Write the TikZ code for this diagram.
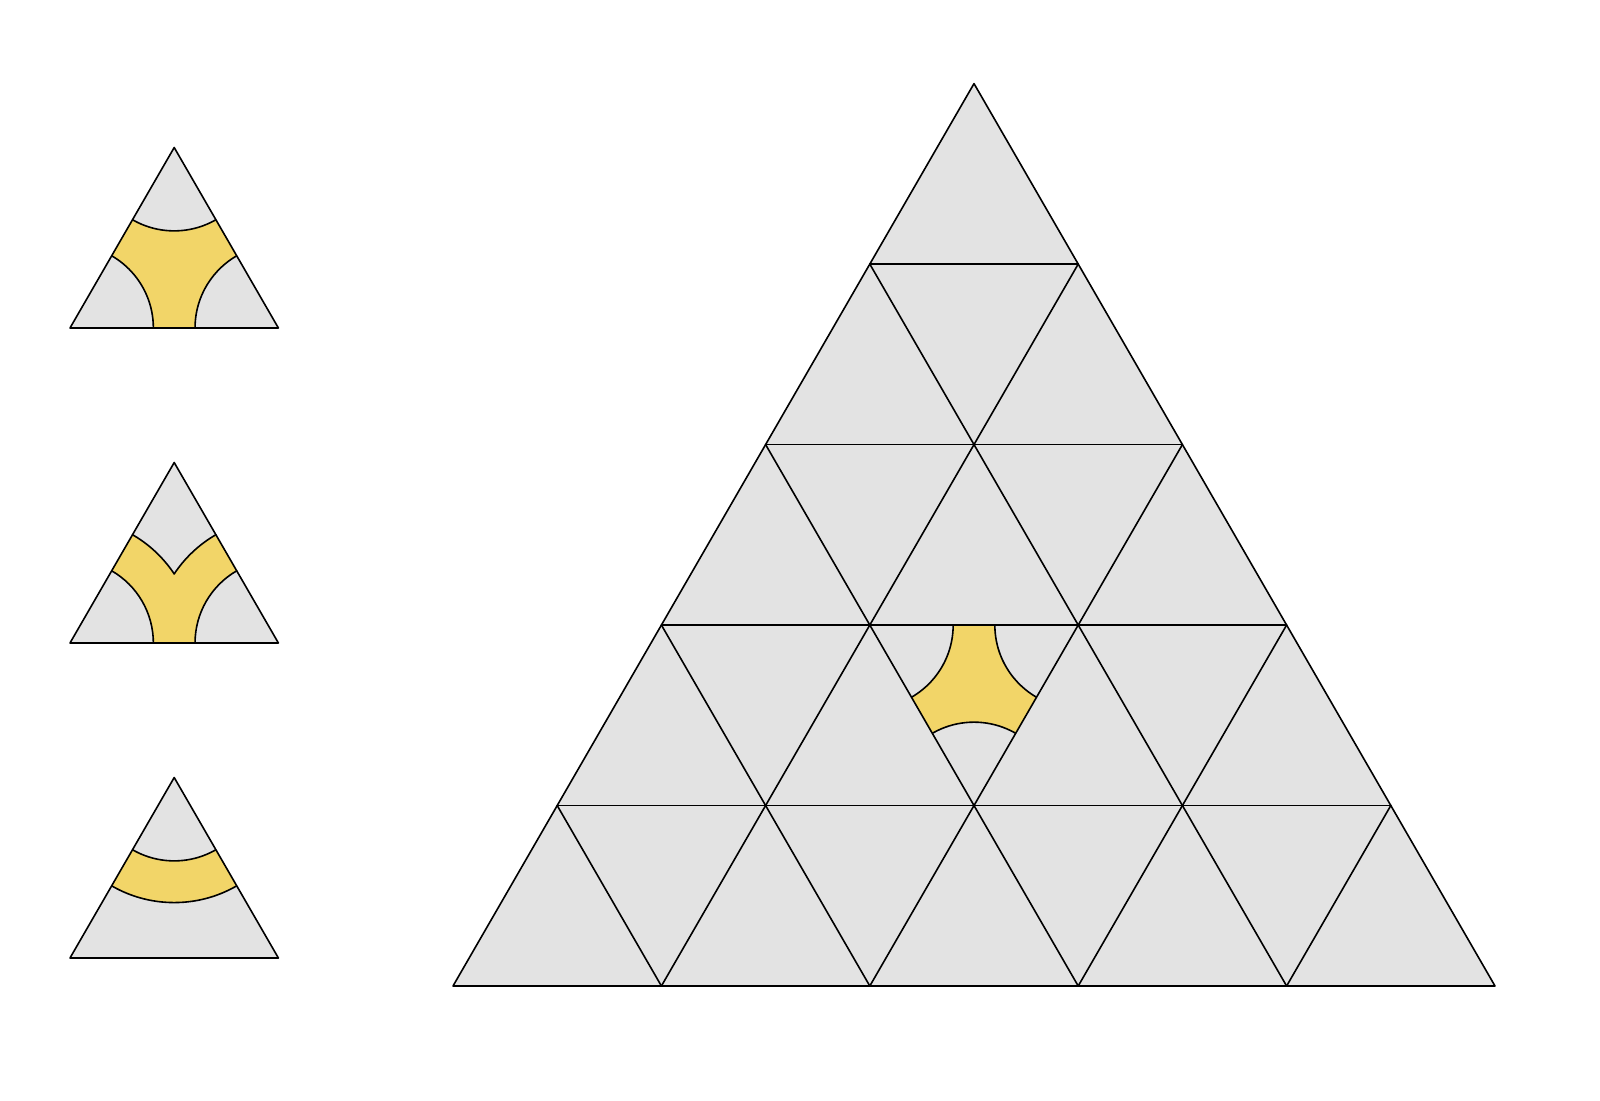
\documentclass[tikz,border=0pt]{standalone}
\definecolor{tgray}{HTML}{E3E3E3}
\definecolor{tyel}{HTML}{F2D568}
\begin{document}
\begin{tikzpicture}[x=0.5pt,y=0.5pt,
  edge/.style={draw=black,line width=0.8pt,line join=round,line cap=round}]
\useasboundingbox (0,0) rectangle (1600,1100);
% ---------- small triangle 1 ----------
\coordinate (t1a) at (70,772);
\coordinate (t1b) at (278.4,772);
\coordinate (t1c) at (174.2,952.48);
\fill[tgray] (t1a)--(t1b)--(t1c)--cycle;
\begin{scope}
  \clip (t1a)--(t1b)--(t1c)--cycle;
  \fill[tyel] (t1a)--(t1b)--(t1c)--cycle;
  \foreach \p in {t1a,t1b,t1c} \filldraw[fill=tgray,edge] (\p) circle (83.36);
\end{scope}
\draw[edge] (t1a)--(t1b)--(t1c)--cycle;
% ---------- small triangle 2 ----------
\coordinate (t2a) at (70,457);
\coordinate (t2b) at (278.4,457);
\coordinate (t2c) at (174.2,637.48);
\fill[tgray] (t2a)--(t2b)--(t2c)--cycle;
\begin{scope}
  \clip (t2a)--(t2b)--(t2c)--cycle;
  \fill[tyel,even odd rule] (t2a) circle (125.04) (t2a) circle (83.36);
  \fill[tyel,even odd rule] (t2b) circle (125.04) (t2b) circle (83.36);
\end{scope}
\draw[edge] (t2a) ++(60:125.04) arc[start angle=60,end angle=33.557,radius=125.04];
\draw[edge] (t2b) ++(120:125.04) arc[start angle=120,end angle=146.443,radius=125.04];
\draw[edge] (t2a) ++(0:83.36) arc[start angle=0,end angle=60,radius=83.36];
\draw[edge] (t2b) ++(180:83.36) arc[start angle=180,end angle=120,radius=83.36];
\draw[edge] (t2a)--(t2b)--(t2c)--cycle;
% ---------- small triangle 3 ----------
\coordinate (t3a) at (70,142);
\coordinate (t3b) at (278.4,142);
\coordinate (t3c) at (174.2,322.48);
\fill[tgray] (t3a)--(t3b)--(t3c)--cycle;
\begin{scope}
  \clip (t3a)--(t3b)--(t3c)--cycle;
  \filldraw[fill=tyel,edge] (t3c) circle (125.04);
  \filldraw[fill=tgray,edge] (t3c) circle (83.36);
\end{scope}
\draw[edge] (t3a)--(t3b)--(t3c)--cycle;
% ---------- big triangle ----------
\foreach \i in {0,...,5} \foreach \j in {0,...,5}
  \coordinate (P\i\j) at ({453+\i*208.4+\j*104.2},{114+\j*180.48});
\fill[tgray] (P00)--(P50)--(P05)--cycle;
\begin{scope}
  \clip (P12)--(P22)--(P21)--cycle;
  \fill[tyel] (P12)--(P22)--(P21)--cycle;
  \foreach \p in {P12,P22,P21} \filldraw[fill=tgray,edge] (\p) circle (83.36);
\end{scope}
\foreach \j [evaluate=\j as \k using int(5-\j)] in {1,...,4} {
  \draw[edge] (P0\j)--(P\k\j);
  \draw[edge] (P\j0)--(P\j\k);
  \draw[edge] (P\j0)--(P0\j);
}
\draw[edge] (P00)--(P50)--(P05)--cycle;
\end{tikzpicture}
\end{document}
